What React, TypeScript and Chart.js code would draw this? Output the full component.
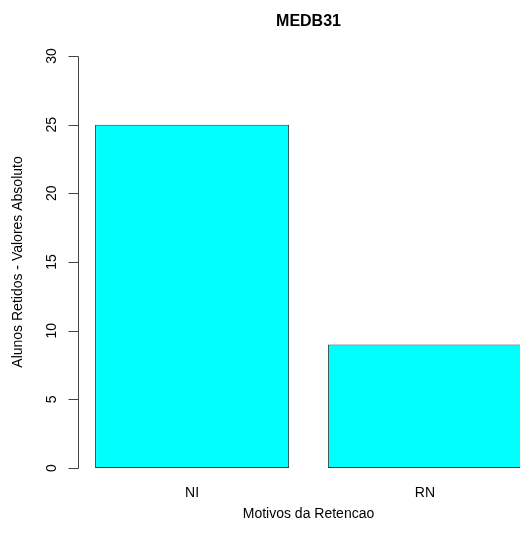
import React, { useEffect, useRef } from "react";
import { Chart, registerables } from "chart.js";

Chart.register(...registerables);

const titleText = "MEDB31";
const xTitle = "Motivos da Retencao";
const yTitle = "Alunos Retidos - Valores Absoluto";
const categories = ["NI", "RN"];
const values = [25, 9];
const yTicks = [0, 5, 10, 15, 20, 25, 30];

// R barplot geometry: width 1, space 0.2
const barSpace = 0.2;
const barWidth = 1;
const centers = categories.map((_, i) => barSpace + barWidth / 2 + i * (barWidth + barSpace));
const xSpan = categories.length * (barWidth + barSpace) - barSpace;
const xMin = barSpace - 0.04 * xSpan;
const xMax = categories.length * (barWidth + barSpace) + 0.04 * xSpan;
const yMin = -0.04 * 30;
const yMax = 30 + 0.04 * 30;

const FONT = "'Liberation Sans', Arial, Helvetica, sans-serif";

const rPlugin = {
  id: "rDecor",
  afterDatasetsDraw(chart: any) {
    const { ctx, chartArea, scales } = chart;
    const xs = scales.x;
    const ys = scales.y;
    ctx.save();
    ctx.fillStyle = "#000";
    // title
    ctx.font = `bold 16px ${FONT}`;
    ctx.textAlign = "center";
    ctx.textBaseline = "middle";
    ctx.fillText(titleText, (chartArea.left + chartArea.right) / 2, 22);

    // y axis
    const ax = Math.round(chartArea.left) + 0.5;
    ctx.strokeStyle = "#444";
    ctx.lineWidth = 1;
    ctx.beginPath();
    ctx.moveTo(ax, Math.round(ys.getPixelForValue(yTicks[0])) + 0.5);
    ctx.lineTo(ax, Math.round(ys.getPixelForValue(yTicks[yTicks.length - 1])) + 0.5);
    for (const t of yTicks) {
      const py = Math.round(ys.getPixelForValue(t)) + 0.5;
      ctx.moveTo(ax, py);
      ctx.lineTo(ax - 10, py);
    }
    ctx.stroke();

    ctx.font = `14px ${FONT}`;
    for (const t of yTicks) {
      const py = ys.getPixelForValue(t);
      ctx.save();
      ctx.translate(52, py);
      ctx.rotate(-Math.PI / 2);
      ctx.textAlign = "center";
      ctx.textBaseline = "middle";
      ctx.fillText(String(t), 0, 0);
      ctx.restore();
    }

    // y title
    ctx.save();
    ctx.font = `14px ${FONT}`;
    ctx.translate(18, (chartArea.top + chartArea.bottom) / 2);
    ctx.rotate(-Math.PI / 2);
    ctx.textAlign = "center";
    ctx.textBaseline = "middle";
    ctx.fillText(yTitle, 0, 0);
    ctx.restore();

    // category labels
    ctx.font = `14px ${FONT}`;
    ctx.textAlign = "center";
    ctx.textBaseline = "middle";
    categories.forEach((c, i) => {
      ctx.fillText(c, xs.getPixelForValue(centers[i]), 493);
    });

    // x title
    ctx.fillText(xTitle, (chartArea.left + chartArea.right) / 2, 514);
    ctx.restore();
  },
};

export default function App() {
  const ref = useRef<HTMLCanvasElement | null>(null);
  useEffect(() => {
    if (!ref.current) return;
    const chart = new Chart(ref.current, {
      type: "bar",
      data: {
        datasets: [
          {
            data: categories.map((_, i) => ({ x: centers[i], y: values[i] })),
            backgroundColor: "#00FFFF",
            borderColor: "#2a3a3a",
            borderWidth: 1,
            borderSkipped: false,
            barPercentage: barWidth / (barWidth + barSpace),
            categoryPercentage: 1,
          },
        ],
      },
      options: {
        responsive: false,
        animation: false,
        layout: { padding: { left: 78, right: 21, top: 39.5, bottom: 48.5 } },
        plugins: { legend: { display: false }, tooltip: { enabled: false }, title: { display: false } },
        scales: {
          x: {
            type: "linear",
            min: xMin,
            max: xMax,
            offset: false,
            display: false,
            afterBuildTicks: (scale: any) => {
              scale.ticks = centers.map((v) => ({ value: v }));
            },
          },
          y: { type: "linear", min: yMin, max: yMax, display: false },
        },
      },
      plugins: [rPlugin],
    });
    return () => chart.destroy();
  }, []);
  return (
    <div style={{ position: "fixed", left: 0, top: 0, width: 520, height: 533, overflow: "hidden", background: "#fff" }}>
      <canvas ref={ref} width={560} height={533} style={{ width: 560, height: 533, display: "block" }} />
    </div>
  );
}
